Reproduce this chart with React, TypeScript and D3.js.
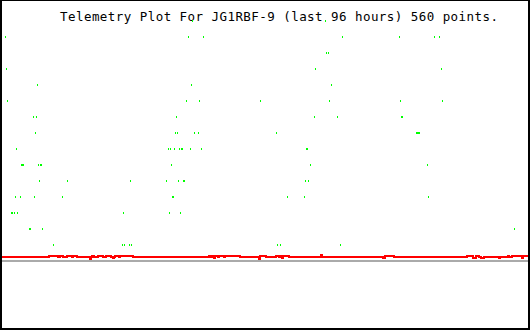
import React from "react";
import * as d3 from "d3";

const WIDTH = 530;
const HEIGHT = 330;

const title = "Telemetry Plot For JG1RBF-9 (last 96 hours) 560 points.";
const hoursSpan = 96;
const valueMax = 255;

// Green channel: [hours, value]
const greenPoints: [number, number][] = [
  [34.79, 240], [59.02, 240],
  [0.73, 224], [34.06, 224], [36.8, 224], [62.12, 224], [72.5, 224], [78.88, 224], [79.79, 224],
  [59.2, 208], [59.57, 208],
  [0.91, 192], [57.2, 192], [80.15, 192],
  [6.56, 176], [34.61, 176], [60.11, 176],
  [1.09, 160], [33.7, 160], [36.07, 160], [47.18, 160], [59.75, 160], [72.68, 160], [80.33, 160],
  [5.83, 144], [6.38, 144], [31.88, 144], [57.02, 144], [61.21, 144], [72.86, 144], [73.04, 144],
  [6.19, 128], [31.7, 128], [32.06, 128], [35.16, 128], [35.89, 128], [50.09, 128], [75.6, 128], [75.78, 128], [75.96, 128], [76.14, 128],
  [2.73, 112], [30.42, 112], [30.79, 112], [31.51, 112], [32.43, 112], [32.79, 112], [32.97, 112], [34.43, 112], [36.43, 112], [55.56, 112], [55.74, 112],
  [3.64, 96], [3.83, 96], [4.01, 96], [6.74, 96], [7.1, 96], [7.29, 96], [30.97, 96], [56.29, 96], [77.6, 96],
  [6.92, 80], [12.02, 80], [23.5, 80], [30.06, 80], [32.24, 80], [33.16, 80], [33.34, 80], [55.38, 80], [55.92, 80],
  [2.55, 64], [3.46, 64], [6.01, 64], [11.11, 64], [31.15, 64], [31.33, 64], [52.1, 64], [55.19, 64], [77.78, 64],
  [1.82, 48], [2.0, 48], [2.37, 48], [2.91, 48], [22.22, 48], [30.6, 48], [32.61, 48],
  [5.1, 32], [5.28, 32], [7.47, 32], [93.45, 32],
  [9.47, 16], [22.04, 16], [22.41, 16], [23.32, 16], [23.68, 16], [50.28, 16], [50.82, 16], [61.75, 16],
];

// Red channel (step changes): [hours, value]
const redSteps: [number, number][] = [
  [0, 4], [8.74, 5], [10.38, 4], [10.75, 5], [11.29, 4], [12.02, 5], [12.93, 4], [13.12, 5], [13.84, 4],
  [16.21, 2], [16.39, 4], [16.58, 5], [16.94, 4], [17.67, 5], [18.58, 4], [19.13, 5], [20.04, 4],
  [20.4, 3], [20.58, 4], [20.77, 5], [21.5, 4], [21.68, 5], [24.05, 4],
  [37.89, 5], [38.25, 4], [38.62, 5], [38.8, 3], [38.98, 5], [39.53, 4], [39.71, 5], [40.62, 4], [40.8, 5], [43.54, 4],
  [47.0, 2], [47.18, 5], [48.27, 4],
  [50.09, 5], [50.64, 4], [50.82, 5], [51.19, 3], [51.37, 5], [52.46, 4],
  [58.29, 6], [58.47, 4],
  [69.59, 3], [69.95, 5], [71.59, 4],
  [84.89, 5], [85.98, 3], [86.53, 5], [87.07, 4], [87.43, 3], [87.98, 4],
  [90.72, 3], [90.9, 4], [92.36, 5], [92.54, 4], [93.09, 5], [94.91, 3], [95.09, 5], [96, 5],
];

// Gray reference channel
const grayPoints: [number, number][] = [[0, 0], [96, 0]];

export default function App() {
  const x = d3.scaleLinear().domain([0, hoursSpan]).range([1, 528]);
  const y = d3.scaleLinear().domain([0, valueMax]).range([261, 6]);

  const stepLine = d3
    .line<[number, number]>()
    .x((d) => x(d[0]))
    .y((d) => y(d[1]))
    .curve(d3.curveStepAfter);

  const plainLine = d3
    .line<[number, number]>()
    .x((d) => x(d[0]))
    .y((d) => y(d[1]));

  return (
    <svg
      width={WIDTH}
      height={HEIGHT}
      style={{ position: "absolute", left: 0, top: 0, background: "#fff" }}
    >
      <rect x={0} y={0} width={WIDTH} height={HEIGHT} fill="#fff" />
      <text
        x={60}
        y={21}
        fontFamily="'DejaVu Sans Mono', monospace"
        fontSize={12.5}
        textLength={438}
        lengthAdjust="spacing"
        fill="#000"
      >
        {title}
      </text>
      <path
        d={plainLine(grayPoints) || ""}
        stroke="#aaaaaa"
        strokeWidth={2}
        fill="none"
        shapeRendering="crispEdges"
      />
      <path
        d={stepLine(redSteps) || ""}
        stroke="#ff0000"
        strokeWidth={2}
        fill="none"
        shapeRendering="crispEdges"
      />
      {greenPoints.map((d, i) => (
        <rect
          key={i}
          x={Math.round(x(d[0]))}
          y={Math.round(y(d[1])) - 1}
          width={1}
          height={2}
          fill="#00ff00"
          shapeRendering="crispEdges"
        />
      ))}
      <rect x={0} y={0} width={WIDTH} height={1} fill="#000" />
      <rect x={0} y={328} width={WIDTH} height={2} fill="#000" />
      <rect x={0} y={0} width={2} height={HEIGHT} fill="#000" />
      <rect x={528} y={0} width={2} height={HEIGHT} fill="#000" />
    </svg>
  );
}
